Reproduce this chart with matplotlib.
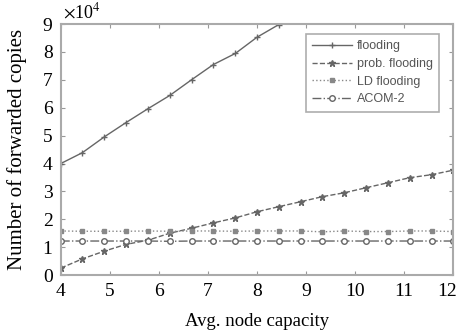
import matplotlib
matplotlib.use("Agg")
import matplotlib.pyplot as plt
import matplotlib.transforms as mtransforms

plt.rcParams['mathtext.fontset'] = 'stix'

# x positions of the samples (avg. node capacity)
x = [4.0, 4.44, 4.89, 5.33, 5.78, 6.22, 6.67, 7.11, 7.56, 8.0, 8.44,
     8.89, 9.33, 9.78, 10.22, 10.67, 11.11, 11.56, 12.0]

# values in units of 1e4
flooding = [4.0, 4.39, 4.96, 5.47, 5.97, 6.44, 7.01, 7.55, 7.95, 8.53, 8.98]
prob_flooding = [0.25, 0.58, 0.86, 1.1, 1.25, 1.5, 1.68, 1.87, 2.05, 2.27,
                 2.45, 2.63, 2.81, 2.95, 3.13, 3.31, 3.49, 3.6, 3.76]
ld_flooding = [1.58, 1.57, 1.57, 1.57, 1.58, 1.57, 1.58, 1.58, 1.57, 1.58,
               1.58, 1.58, 1.55, 1.58, 1.56, 1.56, 1.58, 1.58, 1.56]
acom2 = [1.22, 1.22, 1.22, 1.22, 1.22, 1.21, 1.22, 1.22, 1.22, 1.22,
         1.22, 1.22, 1.22, 1.22, 1.22, 1.22, 1.22, 1.22, 1.22]

xticks = [4, 5, 6, 7, 8, 9, 10, 11, 12]
yticks = [0, 1, 2, 3, 4, 5, 6, 7, 8, 9]

fig = plt.figure(figsize=(4.61, 3.35), dpi=100)
ax = fig.add_axes([0.132, 0.179, 0.851, 0.749])

c = '#666666'
ax.plot(x[:len(flooding)], flooding, '-', marker='+', color=c, lw=1, ms=5, label='flooding')
ax.plot(x, prob_flooding, '--', marker='*', color=c, lw=1, ms=5, label='prob. flooding')
ax.plot(x, ld_flooding, ':', marker='s', color='#888888', lw=1, ms=3.5, label='LD flooding')
ax.plot(x, acom2, '-.', marker='o', color=c, lw=1, ms=4, mfc='white', label='ACOM-2')

ax.set_xlim(4, 12)
ax.set_ylim(0, 9)
ax.set_xticks(xticks)
ax.set_yticks(yticks)
ax.tick_params(direction='in', top=True, right=True, length=3, color='#999999',
               labelsize=14, pad=6)
for lab in ax.get_xticklabels() + ax.get_yticklabels():
    lab.set_family('Liberation Serif')
# last x label sits a bit left of its tick, as in the original
last = ax.get_xticklabels()[-1]
last.set_transform(last.get_transform() +
                   mtransforms.ScaledTranslation(-6 / 100, 0, fig.dpi_scale_trans))
for s in ax.spines.values():
    s.set_color('#aaaaaa')
    s.set_linewidth(1.5)

ax.set_xlabel('Avg. node capacity', family='Liberation Serif', fontsize=13.5, labelpad=9)
ax.set_ylabel('Number of forwarded copies', family='Liberation Serif', fontsize=15, labelpad=11)
ax.text(0.005, 1.01, r'$\times$10$^4$', transform=ax.transAxes, family='Liberation Serif',
        fontsize=13, ha='left', va='bottom')

leg = ax.legend(loc='upper right', bbox_to_anchor=(0.98, 0.985),
                prop={'family': 'Liberation Sans', 'size': 9}, fancybox=False,
                edgecolor='#999999', handlelength=3.2, borderpad=0.5, labelspacing=0.45,
                handletextpad=0.4)
leg.get_frame().set_linewidth(1.2)
for t in leg.get_texts():
    t.set_color('#555555')

fig.savefig('out.png', dpi=100)
